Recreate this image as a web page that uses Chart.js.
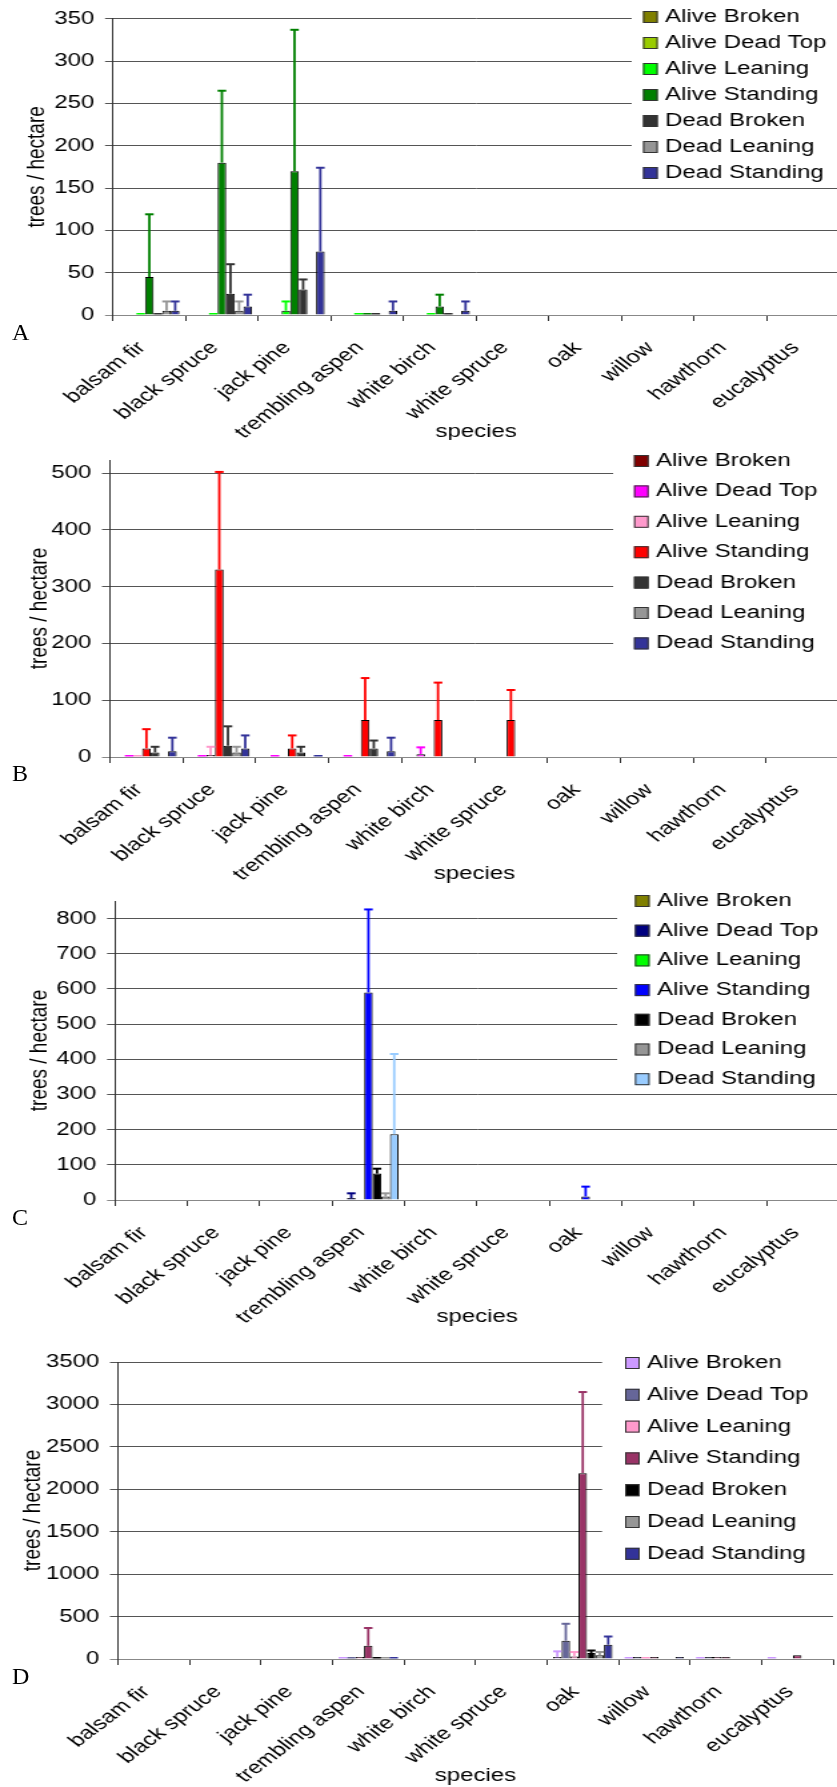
<!DOCTYPE html>
<html lang="en">
<head>
<meta charset="UTF-8">
<title>Tree condition by species</title>
<script src="https://cdn.jsdelivr.net/npm/chart.js"></script>
<style>
  body { margin: 0; background: #fff; width: 837px; height: 1787px; overflow: hidden; position: relative; }
  /* the original figure is stretched sideways, so each chart is drawn narrow and scaled */
  .panel { position: absolute; left: 0; transform-origin: 0 0; transform: scaleX(1.3328); }
  .letter { position: absolute; left: 12px; font-family: "Liberation Serif", "Times New Roman", serif; font-size: 24px; line-height: 1; }
</style>
</head>
<body>
<div class="panel" style="top:0px"><canvas id="panelA" width="632" height="440"></canvas></div>
<div class="panel" style="top:440px"><canvas id="panelB" width="632" height="452"></canvas></div>
<div class="panel" style="top:880px"><canvas id="panelC" width="632" height="450"></canvas></div>
<div class="panel" style="top:1330px"><canvas id="panelD" width="632" height="457"></canvas></div>
<div class="letter" style="top:320px">A</div>
<div class="letter" style="top:761px">B</div>
<div class="letter" style="top:1205px">C</div>
<div class="letter" style="top:1664px">D</div>

<script>
const species = ['balsam fir', 'black spruce', 'jack pine', 'trembling aspen', 'white birch',
                 'white spruce', 'oak', 'willow', 'hawthorn', 'eucalyptus'];
const conditions = ['Alive Broken', 'Alive Dead Top', 'Alive Leaning', 'Alive Standing',
                    'Dead Broken', 'Dead Leaning', 'Dead Standing'];
const yTitle = 'trees / hectare';
const xTitle = 'species';

// Panel A (means and upper error)
const aAliveBroken      = [null, null, null, null, null, null, null, null, null, null];
const aAliveBrokenErr   = [null, null, null, null, null, null, null, null, null, null];
const aAliveDeadTop     = [null, null, null, null, null, null, null, null, null, null];
const aAliveDeadTopErr  = [null, null, null, null, null, null, null, null, null, null];
const aAliveLeaning     = [0, 0, 5, 0, 0, null, null, null, null, null];
const aAliveLeaningErr  = [0, 0, 11, 0, 0, null, null, null, null, null];
const aAliveStanding    = [45, 180, 170, 0, 10, null, null, null, null, null];
const aAliveStandingErr = [74, 85, 167, 0, 14, null, null, null, null, null];
const aDeadBroken       = [0, 25, 30, 0, 0, null, null, null, null, null];
const aDeadBrokenErr    = [0, 35, 12, 0, 0, null, null, null, null, null];
const aDeadLeaning      = [5, 5, null, null, null, null, null, null, null, null];
const aDeadLeaningErr   = [11, 11, null, null, null, null, null, null, null, null];
const aDeadStanding     = [5, 10, 75, 5, 5, null, null, null, null, null];
const aDeadStandingErr  = [11, 14, 99, 11, 11, null, null, null, null, null];

// Panel B
const bAliveBroken      = [null, null, null, null, null, null, null, null, null, null];
const bAliveBrokenErr   = [null, null, null, null, null, null, null, null, null, null];
const bAliveDeadTop     = [0, 0, 0, 0, 5, null, null, null, null, null];
const bAliveDeadTopErr  = [0, 0, 0, 0, 12, null, null, null, null, null];
const bAliveLeaning     = [0, 3, null, null, null, null, null, null, null, null];
const bAliveLeaningErr  = [0, 15, null, null, null, null, null, null, null, null];
const bAliveStanding    = [15, 330, 15, 65, 65, 65, null, null, null, null];
const bAliveStandingErr = [34, 172, 23, 74, 66, 53, null, null, null, null];
const bDeadBroken       = [8, 20, 8, 15, null, null, null, null, null, null];
const bDeadBrokenErr    = [10, 34, 10, 14, null, null, null, null, null, null];
const bDeadLeaning      = [null, 8, null, null, null, null, null, null, null, null];
const bDeadLeaningErr   = [null, 10, null, null, null, null, null, null, null, null];
const bDeadStanding     = [10, 15, 0, 10, null, null, null, null, null, null];
const bDeadStandingErr  = [24, 23, 0, 24, null, null, null, null, null, null];

// Panel C
const cAliveBroken      = [null, null, null, null, null, null, null, null, null, null];
const cAliveBrokenErr   = [null, null, null, null, null, null, null, null, null, null];
const cAliveDeadTop     = [null, null, null, 5, null, null, null, null, null, null];
const cAliveDeadTopErr  = [null, null, null, 14, null, null, null, null, null, null];
const cAliveLeaning     = [null, null, null, null, null, null, null, null, null, null];
const cAliveLeaningErr  = [null, null, null, null, null, null, null, null, null, null];
const cAliveStanding    = [null, null, null, 590, null, null, 10, null, null, null];
const cAliveStandingErr = [null, null, null, 236, null, null, 28, null, null, null];
const cDeadBroken       = [null, null, null, 75, null, null, null, null, null, null];
const cDeadBrokenErr    = [null, null, null, 14, null, null, null, null, null, null];
const cDeadLeaning      = [null, null, null, 10, null, null, null, null, null, null];
const cDeadLeaningErr   = [null, null, null, 9, null, null, null, null, null, null];
const cDeadStanding     = [null, null, null, 187, null, null, null, null, null, null];
const cDeadStandingErr  = [null, null, null, 228, null, null, null, null, null, null];

// Panel D
const dAliveBroken      = [null, null, null, 0, null, null, 25, 0, 0, 0];
const dAliveBrokenErr   = [null, null, null, 0, null, null, 65, 0, 0, 0];
const dAliveDeadTop     = [null, null, null, 0, null, null, 215, 20, 20, null];
const dAliveDeadTopErr  = [null, null, null, 0, null, null, 200, 0, 0, null];
const dAliveLeaning     = [null, null, null, 20, null, null, 30, 0, 5, null];
const dAliveLeaningErr  = [null, null, null, 0, null, null, 52, 0, 0, null];
const dAliveStanding    = [null, null, null, 155, null, null, 2190, 25, 5, 45];
const dAliveStandingErr = [null, null, null, 210, null, null, 956, 0, 0, 0];
const dDeadBroken       = [null, null, null, 0, null, null, 70, null, null, null];
const dDeadBrokenErr    = [null, null, null, 0, null, null, 30, null, null, null];
const dDeadLeaning      = [null, null, null, 0, null, null, 43, null, null, null];
const dDeadLeaningErr   = [null, null, null, 0, null, null, 40, null, null, null];
const dDeadStanding     = [null, null, null, 0, null, null, 168, 25, null, null];
const dDeadStandingErr  = [null, null, null, 0, null, null, 97, 0, null, null];

const colorsA = ['#808000', '#99CC00', '#00FF00', '#008000', '#333333', '#969696', '#333399'];
const colorsB = ['#800000', '#FF00FF', '#FF99CC', '#FF0000', '#333333', '#969696', '#333399'];
const colorsC = ['#808000', '#000080', '#00FF00', '#0000FF', '#000000', '#969696', '#99CCFF'];
const colorsD = ['#CC99FF', '#666699', '#FF99CC', '#993366', '#000000', '#969696', '#333399'];

const FONT = '"Liberation Sans", Arial, Helvetica, sans-serif';
Chart.defaults.font.family = FONT;
Chart.defaults.color = '#000';

// upward error bars with a cap, in the series colour
const errorBars = {
    id: 'errorBars',
    afterDatasetsDraw(chart) {
        const ctx = chart.ctx;
        const yScale = chart.scales.y;
        chart.data.datasets.forEach((ds, i) => {
            chart.getDatasetMeta(i).data.forEach((bar, j) => {
                const v = ds.data[j];
                const e = ds.errors[j];
                if (v == null || !e) return;
                const y0 = yScale.getPixelForValue(v);
                const y1 = yScale.getPixelForValue(v + e);
                const half = bar.width / 2;
                ctx.save();
                ctx.strokeStyle = ds.backgroundColor;
                ctx.lineWidth = 1.8;
                ctx.beginPath();
                ctx.moveTo(bar.x, y0);
                ctx.lineTo(bar.x, y1);
                ctx.stroke();
                ctx.lineWidth = 2;
                ctx.beginPath();
                ctx.moveTo(bar.x - half, y1);
                ctx.lineTo(bar.x + half, y1);
                ctx.stroke();
                ctx.restore();
            });
        });
    }
};

// legend box laid over the plot, slanted category names and the x axis title
const sheetExtras = {
    id: 'sheetExtras',
    afterDraw(chart, args, o) {
        const ctx = chart.ctx;
        const a = chart.chartArea;
        const xScale = chart.scales.x;
        ctx.save();
        ctx.fillStyle = '#fff';
        ctx.fillRect(o.boxLeft, 0, chart.width - o.boxLeft, o.boxBottom);
        ctx.font = '18px ' + FONT;
        ctx.textBaseline = 'middle';
        chart.data.datasets.forEach((ds, i) => {
            const yy = o.rowTop + i * o.rowGap;
            ctx.fillStyle = ds.backgroundColor;
            ctx.fillRect(o.swatchX, yy - 6, 11, 12);
            ctx.strokeStyle = '#333';
            ctx.lineWidth = 1;
            ctx.strokeRect(o.swatchX + 0.5, yy - 5.5, 10, 11);
            ctx.fillStyle = '#000';
            ctx.fillText(ds.label, o.textX, yy);
        });

        ctx.textAlign = 'right';
        chart.data.labels.forEach((lab, i) => {
            ctx.save();
            ctx.translate(xScale.getPixelForTick(i) - 5.5, a.bottom + 30);
            ctx.rotate(-Math.PI / 4);
            ctx.fillText(lab, 0, 0);
            ctx.restore();
        });

        ctx.textAlign = 'center';
        ctx.fillText(xTitle, (a.left + a.right) / 2, a.bottom + 117);
        ctx.restore();
    }
};

function buildPanel(canvasId, colors, values, errors, p) {
    const datasets = conditions.map((name, i) => ({
        label: name,
        data: values[i],
        errors: errors[i],
        backgroundColor: colors[i],
        borderColor: '#000',
        borderWidth: c => (c.raw === 0 ? 0 : 1),
        minBarLength: 2,
        categoryPercentage: 0.83,
        barPercentage: 1.0
    }));

    return new Chart(document.getElementById(canvasId), {
        type: 'bar',
        data: { labels: species, datasets: datasets },
        options: {
            responsive: false,
            animation: false,
            layout: { padding: { top: p.top, right: p.right, left: 0, bottom: 0 } },
            plugins: {
                legend: { display: false },
                tooltip: { enabled: false },
                sheetExtras: p.legend
            },
            scales: {
                x: {
                    grid: { offset: true, drawOnChartArea: false, color: '#333', tickLength: 6 },
                    border: { color: '#888' },
                    ticks: { display: false },
                    afterFit: s => { s.height = p.xHeight; }
                },
                y: {
                    min: 0,
                    max: p.max,
                    ticks: {
                        stepSize: p.step,
                        includeBounds: false,
                        font: { size: 18 },
                        padding: 8,
                        callback: v => String(v)
                    },
                    grid: { color: c => (c.tick && c.tick.value === 0 ? '#888' : '#555'), tickLength: 6 },
                    border: { color: '#333' },
                    title: { display: true, text: yTitle, font: { size: 19 }, padding: { top: p.titlePad, bottom: 0 } },
                    afterFit: s => { s.width = p.yWidth; }
                }
            }
        },
        plugins: [errorBars, sheetExtras]
    });
}

buildPanel('panelA', colorsA,
    [aAliveBroken, aAliveDeadTop, aAliveLeaning, aAliveStanding, aDeadBroken, aDeadLeaning, aDeadStanding],
    [aAliveBrokenErr, aAliveDeadTopErr, aAliveLeaningErr, aAliveStandingErr, aDeadBrokenErr, aDeadLeaningErr, aDeadStandingErr],
    { top: 17, right: 2.5, xHeight: 125, yWidth: 84.8, max: 350, step: 50, titlePad: 16.6,
      legend: { boxLeft: 474, swatchX: 482.5, textX: 499, rowTop: 17, rowGap: 26, boxBottom: 184 } });

buildPanel('panelB', colorsB,
    [bAliveBroken, bAliveDeadTop, bAliveLeaning, bAliveStanding, bDeadBroken, bDeadLeaning, bDeadStanding],
    [bAliveBrokenErr, bAliveDeadTopErr, bAliveLeaningErr, bAliveStandingErr, bDeadBrokenErr, bDeadLeaningErr, bDeadStandingErr],
    { top: 20, right: 2.5, xHeight: 135, yWidth: 82.5, max: 523, step: 100, titlePad: 18.2,
      legend: { boxLeft: 460, swatchX: 475.7, textX: 492.2, rowTop: 21, rowGap: 30.4, boxBottom: 220 } });

buildPanel('panelC', colorsC,
    [cAliveBroken, cAliveDeadTop, cAliveLeaning, cAliveStanding, cDeadBroken, cDeadLeaning, cDeadStanding],
    [cAliveBrokenErr, cAliveDeadTopErr, cAliveLeaningErr, cAliveStandingErr, cDeadBrokenErr, cDeadLeaningErr, cDeadStandingErr],
    { top: 21, right: 2.5, xHeight: 130, yWidth: 86.3, max: 850, step: 100, titlePad: 18.2,
      legend: { boxLeft: 463, swatchX: 476.4, textX: 493, rowTop: 21, rowGap: 29.7, boxBottom: 210 } });

buildPanel('panelD', colorsD,
    [dAliveBroken, dAliveDeadTop, dAliveLeaning, dAliveStanding, dDeadBroken, dDeadLeaning, dDeadStanding],
    [dAliveBrokenErr, dAliveDeadTopErr, dAliveLeaningErr, dAliveStandingErr, dDeadBrokenErr, dDeadLeaningErr, dDeadStandingErr],
    { top: 32, right: 7, xHeight: 128, yWidth: 88.5, max: 3500, step: 500, titlePad: 13,
      legend: { boxLeft: 451.7, swatchX: 469, textX: 485.4, rowTop: 33, rowGap: 31.8, boxBottom: 240 } });
</script>
</body>
</html>
